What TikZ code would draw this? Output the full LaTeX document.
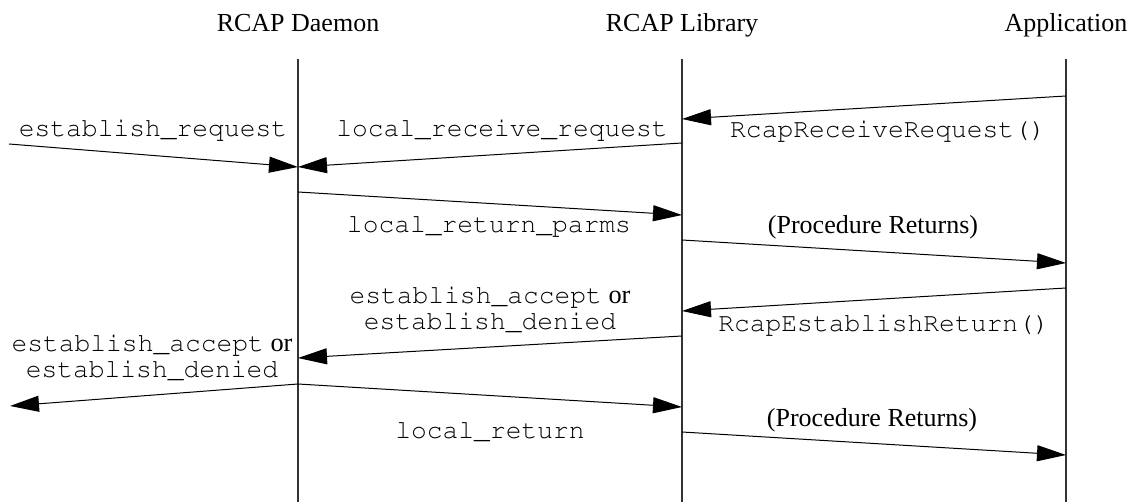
\documentclass[tikz,border=0pt]{standalone}
\usepackage[T1]{fontenc}
\usepackage{fontspec}
\setmainfont{Liberation Serif}
\setmonofont{Liberation Mono}
\usetikzlibrary{arrows.meta}
\newcommand\courfam{\fontencoding{T1}\fontfamily{pcr}\selectfont}
\begin{document}
\begin{tikzpicture}[x=1pt,y=-1pt,
  msg/.style={line width=1pt,-{Triangle[length=29pt,width=16pt]}},
  life/.style={line width=1.3pt,black!80},
  lbl/.style={inner sep=0pt,anchor=base,font=\courfam\fontsize{26.3}{24}\selectfont},
  rlbl/.style={inner sep=0pt,anchor=base,font=\fontsize{26}{24}\selectfont\rmfamily},
  hdr/.style={inner sep=0pt,anchor=base,font=\fontsize{26}{30}\selectfont\rmfamily}]
\useasboundingbox (0,0) rectangle (1137,502);
% headers
\node[hdr] (hD) at (298,32) {RCAP Daemon};
\node[hdr] (hL) at (682,32) {RCAP Library};
\node[hdr] (hA) at (1066,32) {Application};
% lifelines
\coordinate (dT) at (298,59); \coordinate (dB) at (298,502);
\coordinate (lT) at (682,59); \coordinate (lB) at (682,502);
\coordinate (aT) at (1066,59); \coordinate (aB) at (1066,502);
\draw[life] (dT) -- (dB);
\draw[life] (lT) -- (lB);
\draw[life] (aT) -- (aB);
% message end points
\coordinate (a1) at (1066,96);  \coordinate (l1) at (682,119);
\coordinate (l2) at (682,143);  \coordinate (d2) at (298,167);
\coordinate (x3) at (9,144);
\coordinate (d4) at (298,192);  \coordinate (l4) at (682,215);
\coordinate (l5) at (682,240);  \coordinate (a5) at (1066,263);
\coordinate (a6) at (1066,288); \coordinate (l6) at (682,311);
\coordinate (l7) at (682,336);  \coordinate (d7) at (298,358);
\coordinate (d8) at (298,384);  \coordinate (x8) at (10,406);
\coordinate (l9) at (682,407);
\coordinate (l10) at (682,432); \coordinate (a10) at (1066,455);
% messages
\draw[msg] (a1) -- (l1);
\draw[msg] (l2) -- (d2);
\draw[msg] (x3) -- (d2);
\draw[msg] (d4) -- (l4);
\draw[msg] (l5) -- (a5);
\draw[msg] (a6) -- (l6);
\draw[msg] (l7) -- (d7);
\draw[msg] (d8) -- (x8);
\draw[msg] (d8) -- (l9);
\draw[msg] (l10) -- (a10);
% labels
\node[lbl] (t1) at (888,138) {RcapReceiveRequest()};
\node[lbl] (t2) at (502,137) {local\_receive\_request};
\node[lbl] (t3) at (153,137) {establish\_request};
\node[lbl] (t4) at (489,233) {local\_return\_parms};
\node[rlbl] (t5) at (873,234) {(Procedure Returns)};
\node[lbl] (t6) at (884,331) {RcapEstablishReturn()};
\node[lbl] (t7a) at (490,304) {establish\_accept{\fontencoding{TU}\rmfamily\ or}};
\node[lbl] (t7b) at (490,330) {establish\_denied};
\node[lbl] (t8a) at (152,352) {establish\_accept{\fontencoding{TU}\rmfamily\ or}};
\node[lbl] (t8b) at (152,377) {establish\_denied};
\node[lbl] (t9) at (490,438) {local\_return};
\node[rlbl] (t10) at (872,426) {(Procedure Returns)};
\end{tikzpicture}
\end{document}
